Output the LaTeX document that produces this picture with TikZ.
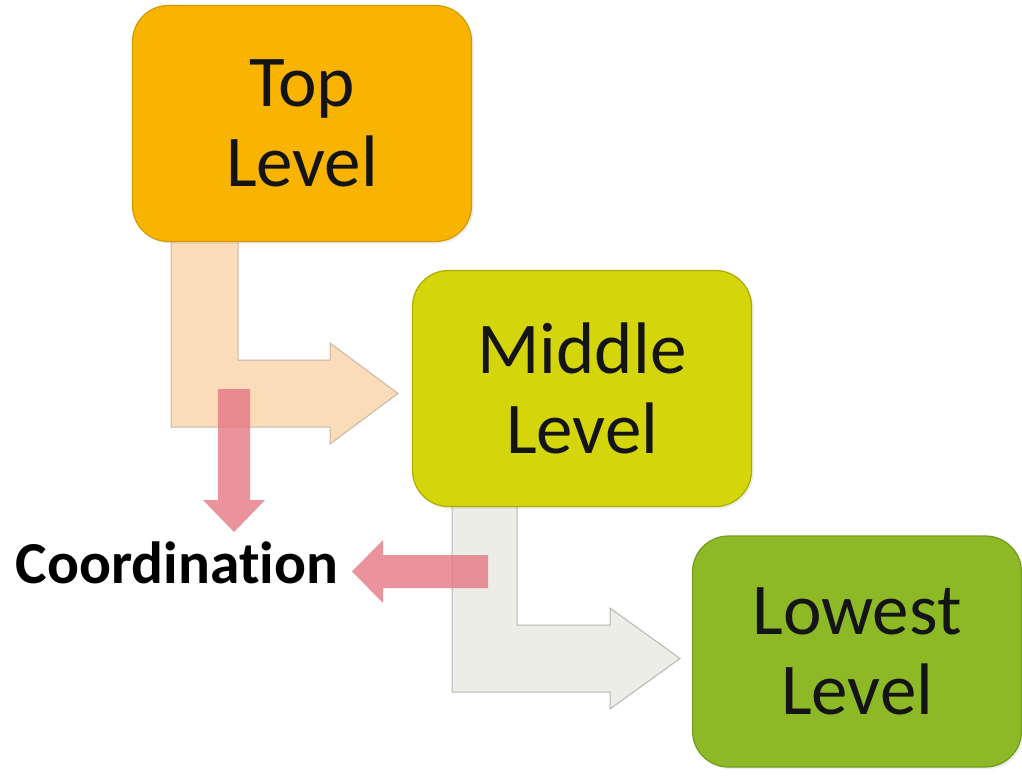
\documentclass[tikz,border=0pt]{standalone}
\usepackage{fontspec}
\setmainfont[Ligatures=NoCommon]{Carlito}
\usetikzlibrary{shadows}
\definecolor{topfill}{HTML}{F8B400}
\definecolor{topdraw}{HTML}{D29A00}
\definecolor{midfill}{HTML}{D5D50C}
\definecolor{middraw}{HTML}{ABAB00}
\definecolor{lowfill}{HTML}{8DB927}
\definecolor{lowdraw}{HTML}{729C1A}
\definecolor{peach}{HTML}{FADBBA}
\definecolor{peachdraw}{HTML}{C9B7A3}
\definecolor{greyfill}{HTML}{EBEDE6}
\definecolor{greydraw}{HTML}{B5B7B0}
\definecolor{pinkfill}{HTML}{E57884}
\tikzset{
  level/.style={rounded corners=36pt, line width=1.2pt, align=center, text=black!92,
    font=\fontsize{73}{80}\selectfont, inner sep=0pt,
    drop shadow={opacity=0.15, shadow xshift=2pt, shadow yshift=-2pt}},
  bentarrow/.style={line width=1pt, line join=miter},
  pinkarrow/.style={fill=pinkfill, fill opacity=0.8, draw=none},
  coordlabel/.style={font=\bfseries\fontsize{59.5}{66}\selectfont, text=black, inner sep=0pt, anchor=base}
}
\begin{document}
\begin{tikzpicture}[x=1pt,y=-1pt]
\useasboundingbox (0,0) rectangle (1022,778);
% bent arrows (behind boxes)
\draw[bentarrow, fill=peach, draw=peachdraw]
  (171,236) -- (238,236) -- (238,360) -- (330,360) -- (330,343) -- (398,393.5)
  -- (330,444) -- (330,427) -- (171,427) -- cycle;
\draw[bentarrow, fill=greyfill, draw=greydraw]
  (452,502) -- (517,502) -- (517,625) -- (610,625) -- (610,608) -- (680,658.5)
  -- (610,709) -- (610,692) -- (452,692) -- cycle;
% level boxes
\node[level, fill=topfill, draw=topdraw, minimum width=339pt, minimum height=236pt]
  (top) at (302,123.5) {Top\\Level};
\node[level, fill=midfill, draw=middraw, minimum width=339pt, minimum height=236pt]
  (mid) at (582,388.5) {Middle\\Level};
\node[level, fill=lowfill, draw=lowdraw, minimum width=329pt, minimum height=231pt]
  (low) at (857,651.5) {Lowest\\Level};
% coordination label
\node[coordlabel] (coord) at (177,583) {Coordination};
% pink arrows
\fill[pinkarrow] (218,389) -- (250,389) -- (250,500) -- (265,500) -- (234,532)
  -- (203,500) -- (218,500) -- cycle;
\fill[pinkarrow] (488,555) -- (488,588) -- (383,588) -- (383,603) -- (352,571.5)
  -- (383,540) -- (383,555) -- cycle;
\end{tikzpicture}
\end{document}
